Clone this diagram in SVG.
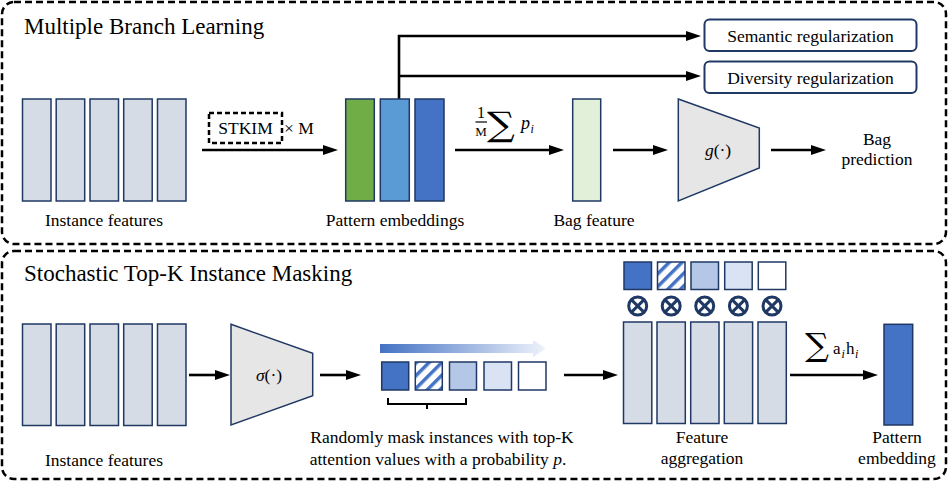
<svg xmlns="http://www.w3.org/2000/svg" width="952" height="487" viewBox="0 0 952 487" font-family="'Liberation Serif', 'Times New Roman', Tinos, 'DejaVu Serif', serif">
<defs>
<style>
text{font-family:'Liberation Serif','Times New Roman',Tinos,'DejaVu Serif',serif;font-size:17.5px;fill:#000}
.ttl{font-size:23px}
.m{text-anchor:middle}
.bar{fill:#d6dce5;stroke:#1f3864;stroke-width:1.5}
.panel{fill:none;stroke:#000;stroke-width:2.5;stroke-dasharray:7 4}
.ln{fill:none;stroke:#000;stroke-width:2.6}
.trap{fill:#e7e6e6;stroke:#1f3864;stroke-width:1.5}
.sq{stroke:#1f3864;stroke-width:1.5}
.box{fill:#fff;stroke:#1f3864;stroke-width:2}
.ot{fill:#fff;stroke:#1f3864;stroke-width:3}
.it{font-style:italic}
.sig{font-family:'DejaVu Serif',serif;font-size:34px}
</style>
<marker id="ah" markerUnits="userSpaceOnUse" markerWidth="15" markerHeight="10" refX="2" refY="5" orient="auto">
<path d="M0,0 L15,5 L0,10 z" fill="#000"/>
</marker>
<pattern id="hatch" patternUnits="userSpaceOnUse" width="9" height="9" patternTransform="rotate(45)">
<rect width="9" height="9" fill="#fff"/>
<rect width="3.5" height="9" fill="#4472c4"/>
</pattern>
<linearGradient id="grad" x1="0" y1="0" x2="1" y2="0">
<stop offset="0" stop-color="#4472c4"/>
<stop offset="1" stop-color="#eef3fb"/>
</linearGradient>
</defs>

<rect class="panel" x="2" y="2" width="944" height="242" rx="12"/>
<rect class="panel" x="2" y="251" width="944" height="228" rx="12"/>
<text class="ttl" x="24" y="34">Multiple Branch Learning</text>
<text class="ttl" x="24" y="281">Stochastic Top-K Instance Masking</text>

<g id="connectors">
<path class="ln" d="M202,150 H325" marker-end="url(#ah)"/>
<path class="ln" d="M399,99 V36 H688" marker-end="url(#ah)"/>
<path class="ln" d="M399,76 H688" marker-end="url(#ah)"/>
<path class="ln" d="M455,150 H551" marker-end="url(#ah)"/>
<path class="ln" d="M613,150 H655" marker-end="url(#ah)"/>
<path class="ln" d="M771,150 H813" marker-end="url(#ah)"/>
<path class="ln" d="M189,375 H217" marker-end="url(#ah)"/>
<path class="ln" d="M320,375 H348" marker-end="url(#ah)"/>
<path class="ln" d="M564,375 H605" marker-end="url(#ah)"/>
<path class="ln" d="M790,375 H865" marker-end="url(#ah)"/>
</g>

<g id="instance-features-top">
<rect class="bar" x="22.5" y="99" width="28.5" height="102"/>
<rect class="bar" x="56.2" y="99" width="28.5" height="102"/>
<rect class="bar" x="90" y="99" width="28.5" height="102"/>
<rect class="bar" x="123.7" y="99" width="28.5" height="102"/>
<rect class="bar" x="157.5" y="99" width="28.5" height="102"/>
<text class="m" x="104" y="226">Instance features</text>
</g>

<g id="stkim">
<rect x="209" y="113" width="73" height="30" fill="none" stroke="#000" stroke-width="2.5" stroke-dasharray="5 3"/>
<text class="m" x="245.5" y="134">STKIM</text>
<text x="284" y="134">× M</text>
</g>

<g id="pattern-embeddings">
<rect class="sq" x="345.7" y="99" width="28.6" height="102" fill="#70ad47"/>
<rect class="sq" x="380.3" y="99" width="29" height="102" fill="#5b9bd5"/>
<rect class="sq" x="415" y="99" width="29" height="102" fill="#4472c4"/>
<text class="m" x="395" y="226">Pattern embeddings</text>
</g>

<g id="semantic-reg">
<rect class="box" x="704.5" y="19.5" width="212" height="31.5" rx="5"/>
<text class="m" x="810.5" y="41.5">Semantic regularization</text>
</g>
<g id="diversity-reg">
<rect class="box" x="704.5" y="61.5" width="212" height="31.5" rx="5"/>
<text class="m" x="810.5" y="83.5">Diversity regularization</text>
</g>

<g id="mean-label">
<text class="m" x="481" y="118" style="font-size:16px">1</text>
<line x1="475.5" y1="122" x2="487" y2="122" stroke="#000" stroke-width="1.2"/>
<text class="m" x="481" y="136" style="font-size:13px">M</text>
<text class="sig" transform="translate(487,136) scale(1.15,1)">∑</text>
<text class="it" x="521" y="129" style="font-size:18px">p</text>
<text class="it" x="530.5" y="133" style="font-size:12px">i</text>
</g>

<g id="bag-feature">
<rect class="sq" x="572.7" y="99" width="28" height="102" fill="#e2f0d9"/>
<text class="m" x="594" y="226">Bag feature</text>
</g>

<g id="g-func">
<polygon class="trap" points="678.3,99 759.3,128 759.3,168 678.3,201"/>
<text class="m" x="718" y="156"><tspan class="it">g</tspan>(·)</text>
</g>

<g id="bag-prediction">
<text class="m" x="877" y="145">Bag</text>
<text class="m" x="877" y="165">prediction</text>
</g>

<g id="instance-features-bottom">
<rect class="bar" x="22.5" y="324" width="28.5" height="101.5"/>
<rect class="bar" x="56.2" y="324" width="28.5" height="101.5"/>
<rect class="bar" x="90" y="324" width="28.5" height="101.5"/>
<rect class="bar" x="123.7" y="324" width="28.5" height="101.5"/>
<rect class="bar" x="157.5" y="324" width="28.5" height="101.5"/>
<text class="m" x="104" y="466">Instance features</text>
</g>

<g id="sigma-func">
<polygon class="trap" points="231,324.3 312.7,353.3 312.7,395.7 231,425"/>
<text class="m" x="269" y="381"><tspan class="it">σ</tspan>(·)</text>
</g>

<g id="masking">
<polygon points="380,344 533,344 533,340 546,348.5 533,357 533,353 380,353" fill="url(#grad)"/>
<rect class="sq" x="381.7" y="362" width="27" height="28" fill="#4472c4"/>
<rect class="sq" x="415.3" y="362" width="27" height="28" fill="url(#hatch)"/>
<rect class="sq" x="449.5" y="362" width="27" height="28" fill="#b4c7e7"/>
<rect class="sq" x="484" y="362" width="27.5" height="28" fill="#dae3f3"/>
<rect class="sq" x="518.5" y="362" width="27.5" height="28" fill="#fff"/>
<path d="M388,398 V404 H466 V398 M427,404 V409" fill="none" stroke="#000" stroke-width="2"/>
<text class="m" x="442" y="443">Randomly mask instances with top-K</text>
<text class="m" x="438" y="465">attention values with a probability <tspan class="it">p</tspan>.</text>
</g>

<g id="feature-aggregation">
<rect class="sq" x="624" y="262" width="27.5" height="27.5" fill="#4472c4"/>
<rect class="sq" x="657.5" y="262" width="27.5" height="27.5" fill="url(#hatch)"/>
<rect class="sq" x="691" y="262" width="27.5" height="27.5" fill="#b4c7e7"/>
<rect class="sq" x="724.7" y="262" width="27.5" height="27.5" fill="#dae3f3"/>
<rect class="sq" x="758.3" y="262" width="27.5" height="27.5" fill="#fff"/>
<g>
<circle class="ot" cx="637.7" cy="306" r="9"/>
<path d="M631.3,299.6 L644.1,312.4 M644.1,299.6 L631.3,312.4" stroke="#1f3864" stroke-width="3"/>
<circle class="ot" cx="671.2" cy="306" r="9"/>
<path d="M664.8,299.6 L677.6,312.4 M677.6,299.6 L664.8,312.4" stroke="#1f3864" stroke-width="3"/>
<circle class="ot" cx="704.7" cy="306" r="9"/>
<path d="M698.3,299.6 L711.1,312.4 M711.1,299.6 L698.3,312.4" stroke="#1f3864" stroke-width="3"/>
<circle class="ot" cx="738.4" cy="306" r="9"/>
<path d="M732,299.6 L744.8,312.4 M744.8,299.6 L732,312.4" stroke="#1f3864" stroke-width="3"/>
<circle class="ot" cx="772" cy="306" r="9"/>
<path d="M765.6,299.6 L778.4,312.4 M778.4,299.6 L765.6,312.4" stroke="#1f3864" stroke-width="3"/>
</g>
<rect class="bar" x="623.5" y="322" width="28.3" height="101.5"/>
<rect class="bar" x="657" y="322" width="28.3" height="101.5"/>
<rect class="bar" x="690.7" y="322" width="28.3" height="101.5"/>
<rect class="bar" x="724.3" y="322" width="28.3" height="101.5"/>
<rect class="bar" x="758" y="322" width="28.3" height="101.5"/>
<text class="m" x="702" y="443">Feature</text>
<text class="m" x="702" y="464">aggregation</text>
</g>

<g id="sum-label">
<text class="sig" transform="translate(805,356) scale(1.05,1)" style="font-size:32px">∑</text>
<text x="833" y="354" style="font-size:17px">a</text>
<text class="it" x="841.5" y="358" style="font-size:12px">i</text>
<text x="846" y="354" style="font-size:17px">h</text>
<text class="it" x="855" y="358" style="font-size:12px">i</text>
</g>

<g id="pattern-embedding">
<rect class="sq" x="884" y="324.3" width="28.7" height="100.7" fill="#4472c4"/>
<text class="m" x="897" y="443">Pattern</text>
<text class="m" x="897" y="464">embedding</text>
</g>
</svg>
